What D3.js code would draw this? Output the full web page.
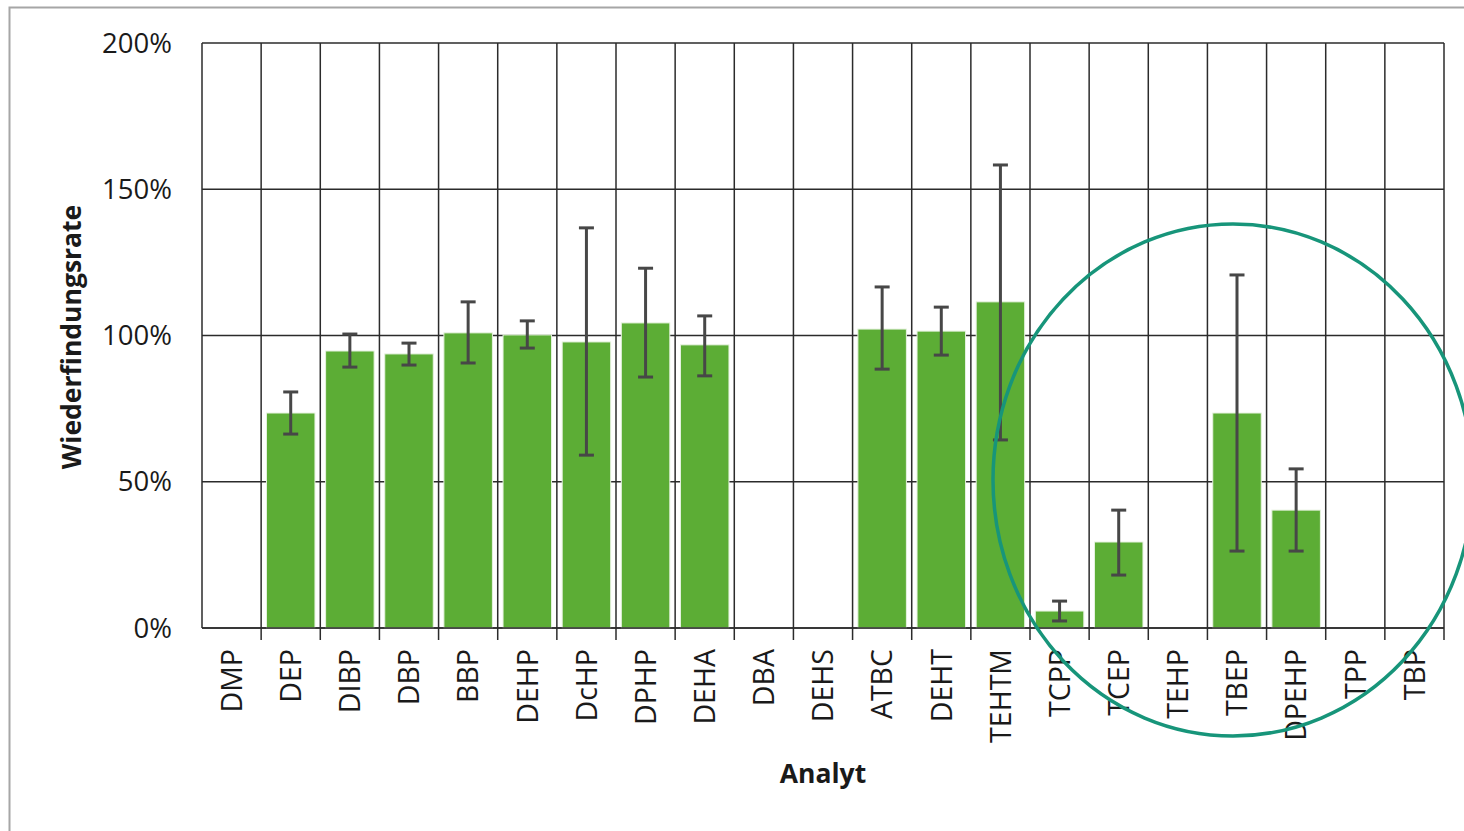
<!DOCTYPE html>
<html>
<head>
<meta charset="utf-8">
<script src="https://cdn.jsdelivr.net/npm/d3@7"></script>
<style>
	body { margin: 0; background: #fff; }
	svg { display: block; }
</style>
</head>
<body>
<div id="plot"></div>
<script>

///////////////////////////////////////////////////////////////////////

let analytes = [ "DMP", "DEP", "DIBP", "DBP", "BBP", "DEHP", "DcHP", "DPHP", "DEHA", "DBA",
	"DEHS", "ATBC", "DEHT", "TEHTM", "TCPP", "TCEP", "TEHP", "TBEP", "DPEHP", "TPP", "TBP" ];

// recovery in %, null = no bar
let recovery = [ null, 73.5, 94.7, 93.7, 100.9, 100.2, 97.8, 104.3, 96.8, null,
	null, 102.2, 101.5, 111.5, 5.8, 29.4, null, 73.5, 40.3, null, null ];

let err_hi = [ null, 80.7, 100.5, 97.4, 111.5, 105.0, 136.8, 123.0, 106.7, null,
	null, 116.6, 109.7, 158.3, 9.2, 40.3, null, 120.7, 54.4, null, null ];

let err_lo = [ null, 66.3, 89.2, 89.9, 90.6, 95.7, 59.1, 85.8, 86.2, null,
	null, 88.5, 93.3, 64.3, 2.4, 18.1, null, 26.3, 26.3, null, null ];

let y_ticks = [ 0, 50, 100, 150, 200 ];

///////////////////////////////////////////////////////////////////////

let width = 1464, height = 831;
let m = { left: 202, right: 20, top: 43, bottom: 203 };
let font = "'Open Sans', 'Liberation Sans', sans-serif";

let svg = d3.select( "#plot" )
	.append( "svg" )
		.attr( "width", width )
		.attr( "height", height );

// outer frame
svg.append( "rect" )
	.attr( "x", 9.5 ).attr( "y", 7.5 )
	.attr( "width", width ).attr( "height", height )
	.attr( "fill", "none" )
	.attr( "stroke", "#a6a6a6" )
	.attr( "stroke-width", 2 );

let x = d3.scaleBand()
	.domain( analytes )
	.range( [ m.left, width - m.right ] )
	.paddingInner( 0.18 )
	.paddingOuter( 0.09 );

let step = ( width - m.right - m.left ) / analytes.length;

let y = d3.scaleLinear()
	.domain( [ 0, 200 ] )
	.range( [ 628, m.top ] );

let grid = svg.append( "g" );

// horizontal gridlines
grid.selectAll( "line.h" )
	.data( y_ticks )
	.join( "line" )
		.attr( "class", "h" )
		.attr( "x1", m.left ).attr( "x2", width - m.right )
		.attr( "y1", d => y( d ) ).attr( "y2", d => y( d ) )
		.attr( "stroke", "#2b2b2b" )
		.attr( "stroke-width", 1.5 );

// vertical gridlines at category boundaries
let bounds = d3.range( analytes.length + 1 ).map( i => m.left + i * step );
grid.selectAll( "line.v" )
	.data( bounds )
	.join( "line" )
		.attr( "class", "v" )
		.attr( "x1", d => d ).attr( "x2", d => d )
		.attr( "y1", y( 200 ) )
		.attr( "y2", ( d, i ) => i == 0 ? y( 0 ) : y( 0 ) + 12 )
		.attr( "stroke", "#2b2b2b" )
		.attr( "stroke-width", 1.5 );

// bars
svg.append( "g" )
	.selectAll( "rect" )
	.data( analytes.map( ( a, i ) => ( { a, v: recovery[ i ] } ) ).filter( d => d.v != null ) )
	.join( "rect" )
		.attr( "x", d => x( d.a ) )
		.attr( "width", x.bandwidth() )
		.attr( "y", d => y( d.v ) )
		.attr( "height", d => y( 0 ) - y( d.v ) )
		.attr( "fill", "#5cad35" )
		.attr( "stroke", "#e6f2df" )
		.attr( "stroke-width", 1 );

// axis line on top of bars
svg.append( "line" )
	.attr( "x1", m.left ).attr( "x2", width - m.right )
	.attr( "y1", y( 0 ) ).attr( "y2", y( 0 ) )
	.attr( "stroke", "#2b2b2b" )
	.attr( "stroke-width", 1.5 );

// error bars
let eb = svg.append( "g" )
	.selectAll( "g" )
	.data( analytes.map( ( a, i ) => ( { a, hi: err_hi[ i ], lo: err_lo[ i ] } ) ).filter( d => d.hi != null ) )
	.join( "g" )
		.attr( "stroke", "#474747" )
		.attr( "stroke-width", 3 );

let cx = d => x( d.a ) + x.bandwidth() / 2;
eb.append( "line" )
	.attr( "x1", cx ).attr( "x2", cx )
	.attr( "y1", d => y( d.hi ) ).attr( "y2", d => y( d.lo ) );
eb.append( "line" )
	.attr( "x1", d => cx( d ) - 7.5 ).attr( "x2", d => cx( d ) + 7.5 )
	.attr( "y1", d => y( d.hi ) ).attr( "y2", d => y( d.hi ) );
eb.append( "line" )
	.attr( "x1", d => cx( d ) - 7.5 ).attr( "x2", d => cx( d ) + 7.5 )
	.attr( "y1", d => y( d.lo ) ).attr( "y2", d => y( d.lo ) );

// y tick labels
svg.append( "g" )
	.selectAll( "text" )
	.data( y_ticks )
	.join( "text" )
		.attr( "x", 172 )
		.attr( "y", d => y( d ) )
		.attr( "dy", "0.35em" )
		.attr( "text-anchor", "end" )
		.attr( "font-family", font )
		.attr( "font-size", 27.5 )
		.attr( "fill", "#1a1a1a" )
		.text( d => d + "%" );

// category labels
svg.append( "g" )
	.selectAll( "text" )
	.data( analytes )
	.join( "text" )
		.attr( "transform", d => "translate(" + ( x( d ) + x.bandwidth() / 2 ) + ",649) rotate(-90)" )
		.attr( "dy", "0.36em" )
		.attr( "text-anchor", "end" )
		.attr( "font-family", font )
		.attr( "font-size", 28.5 )
		.attr( "fill", "#1a1a1a" )
		.text( d => d );

// axis titles
svg.append( "text" )
	.attr( "transform", "translate(72,337) rotate(-90)" )
	.attr( "dy", "0.35em" )
	.attr( "text-anchor", "middle" )
	.attr( "font-family", font )
	.attr( "font-weight", "bold" )
	.attr( "font-size", 26.5 )
	.attr( "fill", "#1a1a1a" )
	.text( "Wiederfindungsrate" );

svg.append( "text" )
	.attr( "x", 823 ).attr( "y", 774 )
	.attr( "dy", "0.35em" )
	.attr( "text-anchor", "middle" )
	.attr( "font-family", font )
	.attr( "font-weight", "bold" )
	.attr( "font-size", 26.5 )
	.attr( "fill", "#1a1a1a" )
	.text( "Analyt" );

// highlight ellipse
svg.append( "ellipse" )
	.attr( "cx", 1233 ).attr( "cy", 480 )
	.attr( "rx", 240 ).attr( "ry", 256 )
	.attr( "fill", "none" )
	.attr( "stroke", "#17957a" )
	.attr( "stroke-width", 3.5 );

</script>
</body>
</html>
